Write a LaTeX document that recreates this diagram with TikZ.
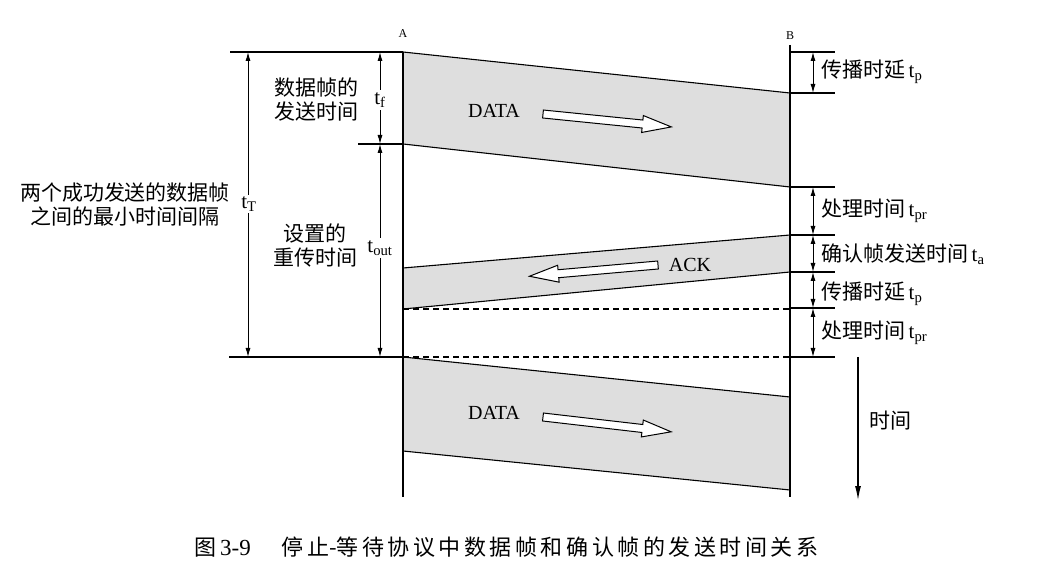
\documentclass[tikz,border=0pt]{standalone}
\usepackage{fontspec}
\setmainfont{Liberation Serif}
\newfontfamily\cjk{Noto Sans CJK SC}
\newfontfamily\cjkcap[LetterSpace=16]{Noto Sans CJK SC}
\usetikzlibrary{arrows.meta}
\begin{document}
\begin{tikzpicture}[x=1pt,y=-1pt,
  ln/.style={line width=1.1pt},
  dim/.style={line width=1pt,{Latex[length=9pt,width=5pt]}-{Latex[length=9pt,width=5pt]}},
  band/.style={fill=black!13,draw=none},
  txt/.style={font=\fontsize{21}{25}\selectfont,inner sep=1pt},
  sub/.style={txt,fill=white,inner sep=2pt},
  rlbl/.style={txt,anchor=west},
  harrow/.pic={\draw[line width=1pt,fill=white] (0,-4) -- (100,-4) -- (100,-8.5) -- (129,0) -- (100,8.5) -- (100,4) -- (0,4) -- cycle;}
]
\useasboundingbox (0,0) rectangle (1037,585);
% key points
\coordinate (Atop) at (403,52);
\coordinate (Abot) at (403,497);
\coordinate (Btop) at (790,45);
\coordinate (Bbot) at (790,497);
% bands
\fill[band] (403,52) -- (790,93) -- (790,187) -- (403,144) -- cycle;
\fill[band] (403,268) -- (790,235) -- (790,272) -- (403,309) -- cycle;
\fill[band] (403,357) -- (790,397) -- (790,490) -- (403,451) -- cycle;
% band edges
\draw[ln] (Atop) -- (790,93);
\draw[ln] (403,144) -- (790,187);
\draw[ln] (403,268) -- (790,235);
\draw[ln] (403,309) -- (790,272);
\draw[ln] (403,357) -- (790,397);
\draw[ln] (403,451) -- (790,490);
\draw[ln,dash pattern=on 6pt off 4pt] (403,309) -- (790,309);
\draw[ln,dash pattern=on 6pt off 4pt] (403,357) -- (790,357);
% life lines
\draw[ln] (Atop) -- (Abot);
\draw[ln] (Btop) -- (Bbot);
\node[font=\fontsize{12}{14}\selectfont] (A) at (403,34) {A};
\node[font=\fontsize{12}{14}\selectfont] (B) at (790,36) {B};
% left horizontals
\draw[ln] (230,52) -- (Atop);
\draw[ln] (358,144) -- (403,144);
\draw[ln] (229,357) -- (403,357);
% left dimension arrows
\draw[dim] (248,52) -- (248,357);
\draw[dim] (380,52) -- (380,144);
\draw[dim] (380,144) -- (380,357);
\node[sub] (tT) at (249,204) {t\textsubscript{T}};
\node[sub] (tf) at (380,100) {t\textsubscript{f}};
\node[sub] (tout) at (380,248) {t\textsubscript{out}};
\node[txt,align=center] (lbl1) at (125,204) {\cjk 两个成功发送的数据帧\\[-1pt]\cjk 之间的最小时间间隔};
\node[txt,align=center] (lbl2) at (316,100) {\cjk 数据帧的\\[-1pt]\cjk 发送时间};
\node[txt,align=center] (lbl3) at (315,245) {\cjk 设置的\\[-1pt]\cjk 重传时间};
% right ticks
\foreach \yy in {52,93,187,235,272,308,357} \draw[ln] (790,\yy) -- (835,\yy);
\draw[dim] (813,52) -- (813,93);
\draw[dim] (813,187) -- (813,235);
\draw[dim] (813,235) -- (813,272);
\draw[dim] (813,272) -- (813,308);
\draw[dim] (813,308) -- (813,357);
\node[rlbl] (r1) at (820,72) {{\cjk 传播时延}\,t\textsubscript{p}};
\node[rlbl] (r2) at (820,211) {{\cjk 处理时间}\,t\textsubscript{pr}};
\node[rlbl] (r3) at (820,254) {{\cjk 确认帧发送时间}\,t\textsubscript{a}};
\node[rlbl] (r4) at (820,294) {{\cjk 传播时延}\,t\textsubscript{p}};
\node[rlbl] (r5) at (820,333) {{\cjk 处理时间}\,t\textsubscript{pr}};
% time arrow
\coordinate (t0) at (858,357);
\coordinate (t1) at (858,500);
\draw[ln,-{Latex[length=14pt,width=6pt]}] (t0) -- (t1);
\node[txt] (time) at (890,421) {\cjk 时间};
% frame labels and hollow arrows
\node[txt,font=\fontsize{20}{23}\selectfont] (d1) at (494,111) {DATA};
\pic[rotate=-5.75] at (543,114) {harrow};
\node[txt,font=\fontsize{20}{23}\selectfont] (ack) at (690,265) {ACK};
\pic[rotate=185] at (658,265) {harrow};
\node[txt,font=\fontsize{20}{23}\selectfont] (d2) at (494,413) {DATA};
\pic[rotate=-6.6] at (543,417) {harrow};
% caption
\node[font=\fontsize{22}{26}\selectfont,anchor=west] (cap) at (191,547) {{\cjkcap 图}\,{\fontsize{23}{26}\selectfont 3-9}\hspace{1.4em}{\cjkcap 停止}{\cjk -}{\cjkcap 等待协议中数据帧和确认帧的发送时间关系}};
\end{tikzpicture}
\end{document}
